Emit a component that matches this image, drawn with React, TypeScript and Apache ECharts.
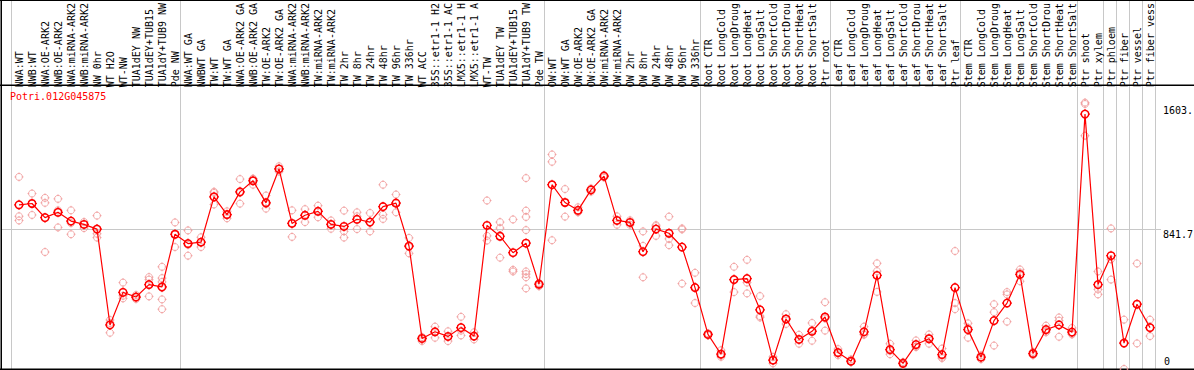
import React, { useEffect, useRef } from "react";
import * as echarts from "echarts";

const geneTitle = "Potri.012G045875";

const categories = [
  "NWA:WT", "NWB:WT", "NWA:OE-ARK2", "NWB:OE-ARK2", "NWA:miRNA-ARK2", "NWB:miRNA-ARK2",
  "NW 0hr", "WT H2O", "WT-NW", "TUA1dEY NW", "TUA1dEY+TUB15", "TUA1dY+TUB9 NW", "Pde NW",
  "NWA:WT GA", "NWBWT GA", "TW:WT", "TW:WT GA", "NWA:OE-ARK2 GA", "NWB:OE-ARK2 GA",
  "TW:OE-ARK2", "TW:OE-ARK2 GA", "NWA:miRNA-ARK2", "NWB:miRNA-ARK2", "TW:miRNA-ARK2",
  "TW:miRNA-ARK2", "TW 2hr", "TW 8hr", "TW 24hr", "TW 48hr", "TW 96hr", "TW 336hr",
  "WT ACC", "35S::etr1-1 H2", "35S::etr1-1 AC", "LMX5::etr1-1 H", "LMX5::etr1-1 A",
  "WT-TW", "TUA1dEY TW", "TUA1dEY+TUB15", "TUA1dY+TUB9 TW", "Pde TW",
  "OW:WT", "OW:WT GA", "OW:OE-ARK2", "OW:OE-ARK2 GA", "OW:miRNA-ARK2", "OW:miRNA-ARK2",
  "OW 2hr", "OW 8hr", "OW 24hr", "OW 48hr", "OW 96hr", "OW 336hr",
  "Root CTR", "Root LongCold", "Root LongDroug", "Root LongHeat", "Root LongSalt",
  "Root ShortCold", "Root ShortDrou", "Root ShortHeat", "Root ShortSalt", "Ptr root",
  "Leaf CTR", "Leaf LongCold", "Leaf LongDroug", "Leaf LongHeat", "Leaf LongSalt",
  "Leaf ShortCold", "Leaf ShortDrou", "Leaf ShortHeat", "Leaf ShortSalt", "Ptr leaf",
  "Stem CTR", "Stem LongCold", "Stem LongDroug", "Stem LongHeat", "Stem LongSalt",
  "Stem ShortCold", "Stem ShortDrou", "Stem ShortHeat", "Stem ShortSalt",
  "Ptr shoot", "Ptr xylem", "Ptr phloem", "Ptr fiber", "Ptr vessel", "Ptr fiber vess",
];

const means = [
  988, 996, 911, 943, 890, 870, 842, 265, 461, 433, 508, 494, 811,
  755, 763, 1036, 929, 1066, 1133, 1000, 1204, 876, 925, 949, 870, 858, 901, 884, 977,
  998, 740, 184, 224, 196, 249, 198, 864, 799, 700, 757, 510,
  1109, 1002, 955, 1078, 1161, 894, 882, 706, 842, 817, 734, 490,
  208, 89, 538, 544, 356, 53, 301, 178, 227, 313,
  99, 47, 224, 563, 117, 34, 147, 182, 87, 490,
  237, 71, 291, 397, 569, 93, 237, 265, 222,
  1534, 508, 682, 156, 390, 249,
];

const replicates = [
  [1156, 919, 894], [1056, 996, 927], [1030, 1000, 704], [1024, 955, 852], [955, 878, 811],
  [885, 848, 870], [923, 814, 791, 842], [295, 218, 277], [520, 425, 441], [445, 433, 421],
  [553, 538, 437], [615, 547, 524, 488, 419, 360], [882, 734, 811],
  [834, 682, 747], [793, 734, 763], [1067, 1060, 990], [949, 907, 931], [1143, 995, 1060],
  [1146, 1109, 1143], [1044, 965, 992], [1220, 1204, 1188], [955, 795, 878], [962, 884, 929],
  [983, 913, 949], [894, 844, 872], [953, 791, 828], [943, 842, 919], [939, 828, 884],
  [1109, 929, 903], [1050, 943, 1002], [789, 696, 734], [178, 168, 192], [255, 188, 225],
  [227, 168, 193], [314, 202, 231], [221, 178, 194], [1014, 801, 773], [884, 848, 670],
  [900, 597, 587], [1149, 953, 915, 836, 587, 571, 552, 485], [518, 498, 514],
  [1291, 1247, 775], [1083, 917, 1002], [973, 947, 943], [1078, 1067, 1087], [1168, 1161, 1152],
  [919, 868, 894], [895, 882, 868], [828, 741, 552], [866, 801, 860], [917, 783, 745],
  [846, 514, 840], [579, 397, 494],
  [215, 202, 206], [113, 73, 81], [615, 463, 536], [657, 455, 520], [439, 310, 318],
  [73, 34, 53], [330, 271, 301], [206, 152, 176], [277, 170, 234], [402, 231, 304],
  [120, 83, 93], [58, 43, 42], [255, 206, 209], [636, 464, 589], [152, 89, 109],
  [42, 26, 34], [172, 132, 135], [208, 152, 186], [123, 73, 65], [710, 397, 360],
  [275, 188, 249], [83, 59, 71], [390, 342, 141], [463, 449, 285], [599, 528, 581],
  [103, 83, 93], [261, 221, 230], [310, 194, 291], [247, 212, 208],
  [1603.2, 1404, 1595], [587, 479, 449], [846, 660, 538], [297, 0, 156], [635, 154, 390],
  [297, 198, 249],
];

// column indices where a vertical separator starts
const separatorIndices = [0, 13, 41, 53, 63, 73, 82, 84, 85, 86, 87, 88];

const W = 1194;
const H = 370;
const FONT = "'DejaVu Sans Mono', 'Liberation Mono', monospace";
const TICKS = "path://M5,0L5,2M5,8L5,10M0,5L2,5M8,5L10,5";
const PINK = "#f09898";
const RED = "#ff0000";

export default function App() {
  const ref = useRef<HTMLDivElement>(null);

  useEffect(() => {
    const el = ref.current;
    if (!el) return;
    const chart = echarts.init(el, null, { renderer: "svg", width: W, height: H });

    const allVals = replicates.flat().concat(means);
    const maxVal = Math.max(...allVals);
    const yMax = maxVal * 1.05;
    const mid = yMax / 2;

    const repData: number[][] = [];
    replicates.forEach((reps, i) => reps.forEach((v) => repData.push([i, v])));
    const meanData = means.map((v, i) => [i, v]);

    chart.setOption({
      animation: false,
      grid: { left: 12.5, right: 37.5, top: 85, bottom: 1 },
      xAxis: [
        {
          type: "category",
          data: categories,
          position: "top",
          axisLine: { show: false },
          axisTick: { show: false },
          splitLine: { show: false },
          axisLabel: {
            interval: 0,
            rotate: 90,
            margin: 2,
            fontFamily: FONT,
            fontSize: 10,
            color: "#000",
          },
        },
        { type: "value", min: -0.5, max: categories.length - 0.5, show: false },
      ],
      yAxis: { type: "value", min: 0, max: yMax, show: false },
      series: [
        {
          type: "scatter",
          xAxisIndex: 1,
          data: repData,
          symbol: "circle",
          symbolSize: 7,
          silent: true,
          itemStyle: { color: "rgba(0,0,0,0)", borderColor: PINK, borderWidth: 1 },
          z: 2,
        },
        {
          type: "scatter",
          xAxisIndex: 1,
          data: repData,
          symbol: TICKS,
          symbolSize: 9,
          silent: true,
          itemStyle: { color: "rgba(0,0,0,0)", borderColor: PINK, borderWidth: 1 },
          z: 2,
        },
        {
          type: "line",
          xAxisIndex: 1,
          data: meanData,
          symbol: "circle",
          symbolSize: 7.5,
          showAllSymbol: true,
          silent: true,
          lineStyle: { color: RED, width: 1.2 },
          itemStyle: { color: "rgba(0,0,0,0)", borderColor: RED, borderWidth: 1.5 },
          z: 3,
        },
        {
          type: "scatter",
          xAxisIndex: 1,
          data: meanData,
          symbol: TICKS,
          symbolSize: 10,
          silent: true,
          itemStyle: { color: "rgba(0,0,0,0)", borderColor: RED, borderWidth: 1.2 },
          z: 3,
        },
      ],
    });

    const xp = (v: number) => chart.convertToPixel({ xAxisIndex: 1 } as any, v) as number;
    const yp = (v: number) => chart.convertToPixel({ yAxisIndex: 0 } as any, v) as number;

    const lineEl = (x1: number, y1: number, x2: number, y2: number, stroke: string, lw: number) => ({
      type: "line",
      silent: true,
      z: 0,
      shape: { x1, y1, x2, y2 },
      style: { stroke, lineWidth: lw },
    });

    const textEl = (text: string, x: number, y: number, fill: string) => ({
      type: "text",
      silent: true,
      z: 10,
      x,
      y,
      style: {
        text,
        fill,
        font: `10px ${FONT}`,
        fontSize: 10,
        fontFamily: FONT,
        textAlign: "left",
        align: "left",
        textVerticalAlign: "middle",
        verticalAlign: "middle",
      },
    });

    const bottomY = 369.25;
    const elements: any[] = [];
    separatorIndices.forEach((i) => {
      const x = Math.round(xp(i - 0.6)) + 0.5;
      elements.push(lineEl(x, 0, x, bottomY, "#c8c8c8", 1));
    });
    const ym = Math.round(yp(mid)) + 0.5;
    elements.push(lineEl(2, ym, 1161, ym, "#c8c8c8", 1));
    elements.push(lineEl(0, 0.5, W, 0.5, "#000", 1));
    elements.push(lineEl(0, 85.25, W, 85.25, "#000", 1.5));
    elements.push(lineEl(0, bottomY, W, bottomY, "#000", 1.5));
    elements.push(lineEl(1.25, 0, 1.25, H, "#000", 1.5));

    elements.push(textEl(geneTitle, 10, 96.7, RED));
    const labelX = xp(categories.length - 0.5) + 6.5;
    elements.push(textEl(String(maxVal).slice(0, 5), labelX, yp(maxVal) + 8, "#000"));
    elements.push(textEl(mid.toFixed(1), labelX, yp(mid) + 5.7, "#000"));
    elements.push(textEl("0", labelX + 1, yp(0) - 7.3, "#000"));

    chart.setOption({ graphic: { elements } });

    return () => {
      chart.dispose();
    };
  }, []);

  return (
    <div
      ref={ref}
      style={{ position: "absolute", left: 0, top: 0, width: W, height: H, overflow: "hidden" }}
    />
  );
}
